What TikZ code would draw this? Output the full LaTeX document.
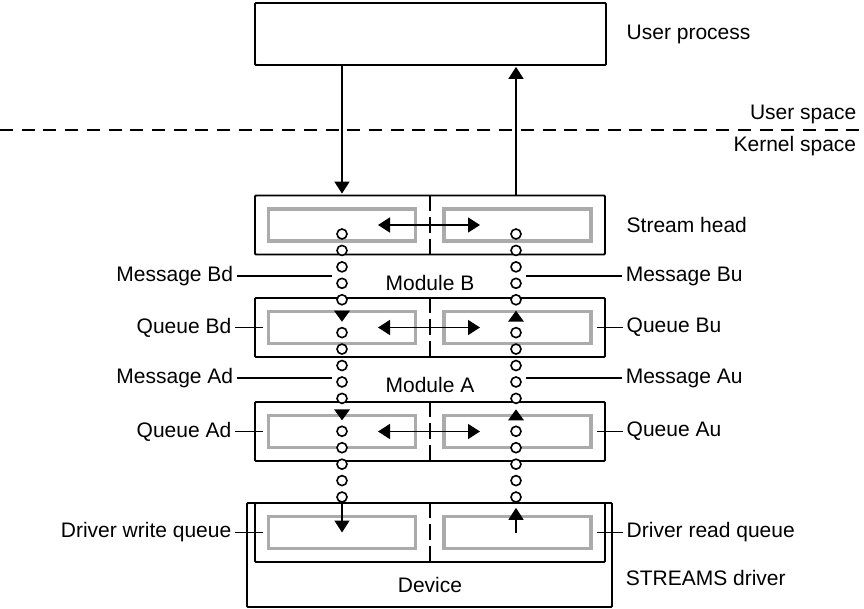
\documentclass[tikz,border=0pt]{standalone}
\usepackage{fontspec}
\setmainfont{Liberation Sans}
\usetikzlibrary{arrows.meta,positioning}

\tikzset{
  box/.style={draw, line width=1.8pt, rounded corners=1pt, inner sep=0pt},
  queue/.style={draw=black!33, line width=3.4pt, inner sep=0pt, minimum width=147pt, minimum height=32pt},
  bead/.style={circle, draw, fill=white, line width=1.6pt, inner sep=0pt, minimum size=10pt},
  lbl/.style={inner sep=0pt, font=\fontsize{21}{24}\selectfont},
  lead/.style={line width=1.3pt, shorten <=3pt, shorten >=4pt},
  split/.style={line width=1.4pt, dash pattern=on 16pt off 6pt},
}

\begin{document}
\begin{tikzpicture}[x=1pt,y=-1pt,>={Triangle[length=12pt,width=15pt]},line width=1.6pt,node distance=20pt]
    \useasboundingbox (0,0) rectangle (864,609);

    \node[box, minimum width=351pt, minimum height=62pt] (user) at (430.5,34) {};
    \node[lbl, right=19pt of user] (up) {User process};

    % user / kernel boundary
    \coordinate (bl) at (0,130);
    \coordinate (br) at (864,130);
    \draw[line width=2.2pt, dash pattern=on 13pt off 8.7pt] (bl) -- (br);
    \node[lbl, anchor=east] (us) at (857,114) {User space};
    \node[lbl, anchor=east] (ks) at (857,146) {Kernel space};

    % driver
    \node[box, minimum width=365pt, minimum height=104pt] (drvout) at (429.5,555) {};

    % queue pairs
    \foreach \n/\y in {head/225, qB/327.5, qA/431.5, drv/532.5} {
        \node[box, minimum width=350pt, minimum height=59pt] (\n) at (430,\y) {};
        \node[queue] (\n w) at (342,\y) {};
        \node[queue] (\n e) at (517.5,\y) {};
        \draw[split] (\n.north) -- (\n.south);
    }
    \foreach \n in {head, qB, qA}
        \draw[<->] ([xshift=-52pt]\n.center) -- ([xshift=50pt]\n.center);

    % messages
    \foreach \k in {0,...,4,6,7,...,10,12,13,...,16} {
        \node[bead] (l\k) at (342,{234+16.44*\k}) {};
        \node[bead] (r\k) at (516,{234+16.44*\k}) {};
    }
    \foreach \k in {5,11} {
        \fill[shift={(342,{234+16.44*\k})}] (-8,-5.5) -- (8,-5.5) -- (0,5.5) -- cycle;
        \fill[shift={(516,{234+16.44*\k})}] (-8,5.5) -- (8,5.5) -- (0,-5.5) -- cycle;
    }

    \draw[->, shorten >=1pt] (user.south -| l0) -- (head.north -| l0);
    \draw[->, shorten >=1pt] (head.north -| r0) -- (user.south -| r0);
    \draw[->] (l16) -- (l16 |- drvw.center);
    \draw[->, shorten >=5pt] (r16 |- drve.center) -- (r16);

    % labels
    \node[lbl, right=of head] (sh) {Stream head};
    \node[lbl] (mB) at (430,283) {Module B};
    \node[lbl] (mA) at (430,385) {Module A};
    \node[lbl] (dev) at (430,585) {Device};
    \node[lbl, anchor=east] (mBd) at (234,276) {Message Bd};
    \node[lbl, anchor=west] (mBu) at (625,276) {Message Bu};
    \node[lbl, anchor=east] (mAd) at (234,378) {Message Ad};
    \node[lbl, anchor=west] (mAu) at (625,378) {Message Au};
    \node[lbl, left=22pt of qB] (qBd) {Queue Bd};
    \node[lbl, right=of qB] (qBu) {Queue Bu};
    \node[lbl, left=22pt of qA] (qAd) {Queue Ad};
    \node[lbl, right=of qA] (qAu) {Queue Au};
    \node[lbl, left=22pt of drv] (dwq) {Driver write queue};
    \node[lbl, right=of drv] (drq) {Driver read queue};
    \node[lbl, anchor=west] (sd) at (625,578) {STREAMS driver};

    \draw[lead] (mBd) -- (mBd -| l2.west);
    \draw[lead] (mBu) -- (mBu -| r2.east);
    \draw[lead] (mAd) -- (mAd -| l9.west);
    \draw[lead] (mAu) -- (mAu -| r9.east);
    \draw[lead] (qBd) -- (qBd -| qBw.west);
    \draw[lead] (qBu) -- (qBu -| qBe.east);
    \draw[lead] (qAd) -- (qAd -| qAw.west);
    \draw[lead] (qAu) -- (qAu -| qAe.east);
    \draw[lead] (dwq) -- (dwq -| drvw.west);
    \draw[lead] (drq) -- (drq -| drve.east);
\end{tikzpicture}
\end{document}
